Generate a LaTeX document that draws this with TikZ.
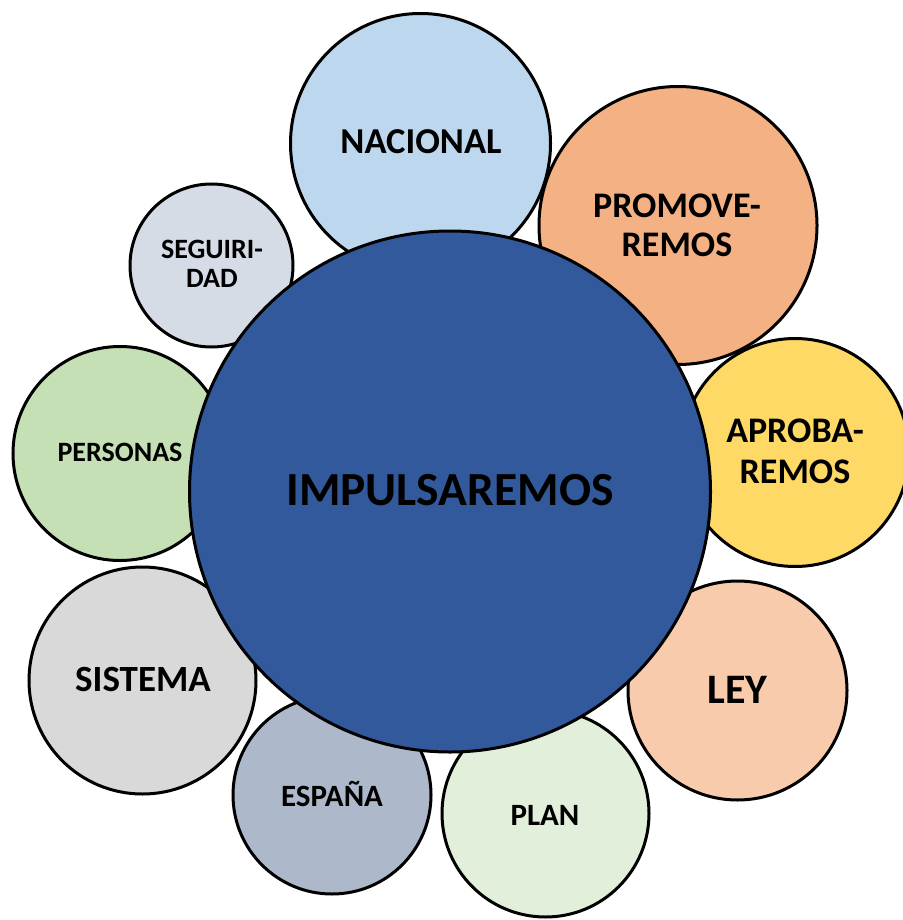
\documentclass[tikz,border=0pt]{standalone}
\usepackage{fontspec}
\setmainfont{Carlito}
\definecolor{cmain}{HTML}{32599C}
\definecolor{cnac}{HTML}{BDD7EE}
\definecolor{cpro}{HTML}{F4B183}
\definecolor{capr}{HTML}{FFD966}
\definecolor{cley}{HTML}{F8CBAD}
\definecolor{cpla}{HTML}{E2EFDA}
\definecolor{cesp}{HTML}{ADB9CA}
\definecolor{csis}{HTML}{D9D9D9}
\definecolor{cper}{HTML}{C5E0B4}
\definecolor{cseg}{HTML}{D6DCE5}
\tikzset{
  bubble/.style={circle, draw=black, line width=3pt, inner sep=0pt, outer sep=0pt, minimum size=#1},
  lbl/.style={inner sep=0pt, outer sep=0pt, align=center, text=black, font=\bfseries},
}
\begin{document}
\begin{tikzpicture}[x=1pt,y=-1pt]
\useasboundingbox (0,0) rectangle (902,920);
% satellite circles
\node[bubble=260pt, fill=cnac] (nac) at (420.5,143.5) {};
\node[bubble=278pt, fill=cpro] (pro) at (678,225.5) {};
\node[bubble=228pt, fill=capr] (apr) at (795,452.5) {};
\node[bubble=219pt, fill=cley] (ley) at (737.5,690.5) {};
\node[bubble=207pt, fill=cpla] (pla) at (545.5,813.5) {};
\node[bubble=198pt, fill=cesp] (esp) at (332,795) {};
\node[bubble=227pt, fill=csis] (sis) at (142.5,680.5) {};
\node[bubble=214pt, fill=cper] (per) at (120,453.5) {};
\node[bubble=163pt, fill=cseg] (seg) at (211.5,265.5) {};
% central circle
\node[bubble=521pt, fill=cmain] (main) at (450,491.5) {};
% labels
\node[lbl, anchor=base, font=\bfseries\fontsize{36.5}{40}\selectfont] (tnac) at (421,153.3) {NACIONAL};
\node[lbl, font=\bfseries\fontsize{36}{39.4}\selectfont] (tpro) at (677,225.5) {PROMOVE-\\REMOS};
\node[lbl, font=\bfseries\fontsize{36}{40.5}\selectfont] (tapr) at (795,451.3) {APROBA-\\REMOS};
\node[lbl, font=\bfseries\fontsize{28}{29}\selectfont] (tseg) at (212,264.2) {SEGUIRI-\\DAD};
\node[lbl, anchor=base, font=\bfseries\fontsize{28}{30}\selectfont] (tper) at (120,461.7) {PERSONAS};
\node[lbl, anchor=base, font=\bfseries\fontsize{47.5}{52}\selectfont] (tmain) at (450,505) {IMPULSAREMOS};
\node[lbl, anchor=base, font=\bfseries\fontsize{37}{40}\selectfont] (tsis) at (143,691) {SISTEMA};
\node[lbl, anchor=base, font=\bfseries\fontsize{31}{34}\selectfont] (tesp) at (332,806.7) {ESPAÑA};
\node[lbl, anchor=base, font=\bfseries\fontsize{42}{46}\selectfont] (tley) at (737.5,703.3) {LEY};
\node[lbl, anchor=base, font=\bfseries\fontsize{31}{34}\selectfont] (tpla) at (545,825) {PLAN};
\end{tikzpicture}
\end{document}
